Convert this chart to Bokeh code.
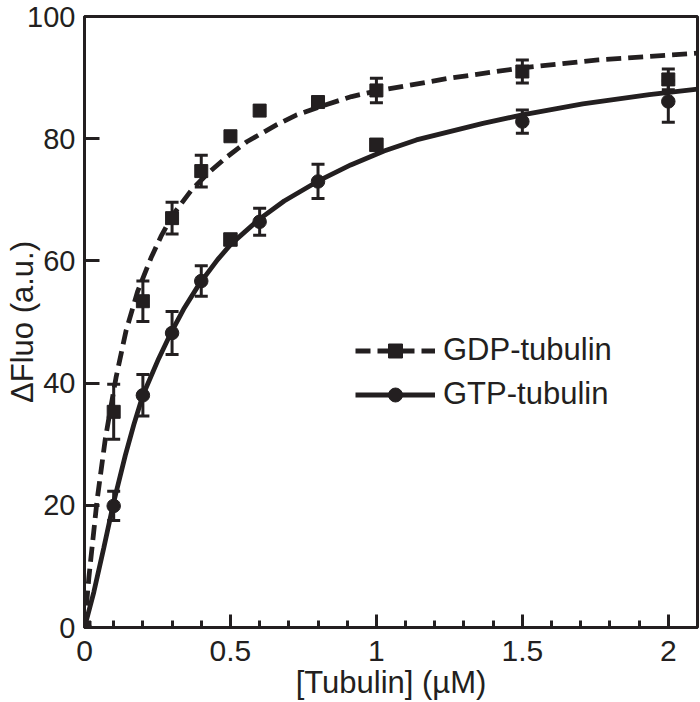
from bokeh.plotting import figure
from bokeh.models import (Range1d, FixedTicker, CustomJSTickFormatter, ColumnDataSource,
                          Whisker, TeeHead, Legend, LegendItem)
from bokeh.embed import file_html
from bokeh.resources import INLINE

INK = "#231f20"
FONT = "Liberation Sans"

# ---- data ----
conc = [0, 0.1, 0.2, 0.3, 0.4, 0.5, 0.6, 0.8, 1.0, 1.5, 2.0]
gdp_mean = [0, 35.3, 53.4, 67.0, 74.7, 80.4, 84.6, 86.0, 87.9, 91.0, 89.7]
gdp_err = [0, 4.5, 3.3, 2.6, 2.6, 0, 0, 0, 2.0, 1.9, 1.7]
gtp_mean = [0, 19.9, 38.0, 48.2, 56.7, 63.5, 66.4, 73.0, 79.0, 82.8, 86.1]
gtp_err = [0, 2.4, 3.4, 3.5, 2.5, 0, 2.2, 2.8, 0, 1.9, 3.4]
gtp_marker = ["circle", "circle", "circle", "circle", "circle", "square",
              "circle", "circle", "square", "circle", "circle"]

# fitted curves
gdp_fit_x = [0, 0.015, 0.043, 0.072, 0.108, 0.142, 0.182, 0.228, 0.262, 0.302, 0.365,
             0.422, 0.482, 0.556, 0.659, 0.727, 0.83, 0.915, 1.0, 1.25, 1.5, 1.76, 2.1]
gdp_fit_y = [0, 8.2, 20.8, 31.1, 40.9, 48.5, 55.0, 60.5, 64.0, 67.5, 71.5,
             74.3, 76.8, 79.5, 82.3, 83.9, 85.6, 86.9, 87.8, 89.9, 91.6, 92.9, 94.0]
gtp_fit_x = [0, 0.032, 0.066, 0.1, 0.14, 0.169, 0.2, 0.254, 0.296, 0.342, 0.393, 0.456,
             0.501, 0.598, 0.684, 0.798, 0.912, 1.026, 1.137, 1.365, 1.5, 1.707, 1.935, 2.1]
gtp_fit_y = [0, 5.8, 13.0, 20.5, 28.2, 33.2, 38.0, 44.0, 48.2, 52.3, 56.2, 60.2,
             62.7, 66.8, 69.8, 73.0, 75.7, 78.0, 79.8, 82.5, 83.9, 85.7, 87.2, 88.1]

x_ticks = [0, 0.5, 1, 1.5, 2]
x_tick_labels = ["0", "0.5", "1", "1.5", "2"]
x_minor_ticks = [0.1, 0.2, 0.3, 0.4, 0.6, 0.7, 0.8, 0.9, 1.1, 1.2, 1.3, 1.4,
                 1.6, 1.7, 1.8, 1.9]
y_ticks = [0, 20, 40, 60, 80, 100]

x_label = "[Tubulin] (\u00b5M)"
y_label = "\u0394Fluo (a.u.)"
series_names = ["GDP-tubulin", "GTP-tubulin"]

# ---- figure ----
p = figure(width=700, height=702, frame_width=613, frame_height=611,
           output_backend="svg", toolbar_location=None,
           x_range=Range1d(0, 2.1), y_range=Range1d(0, 100),
           min_border_left=84, min_border_right=3, min_border_top=16, min_border_bottom=75)
p.background_fill_color = "white"
p.border_fill_color = "white"
p.grid.visible = False
p.outline_line_color = INK
p.outline_line_width = 3

xa = p.xaxis[0]
xa.ticker = FixedTicker(ticks=x_ticks, minor_ticks=x_minor_ticks)
xa.formatter = CustomJSTickFormatter(args=dict(t=x_ticks, l=x_tick_labels), code="""
    for (let i = 0; i < t.length; i++) { if (Math.abs(t[i] - tick) < 1e-9) return l[i]; }
    return String(tick);
""")
xa.major_tick_in = 13
xa.major_tick_out = 0
xa.minor_tick_in = 7
xa.minor_tick_out = 0
xa.major_label_standoff = 13
xa.axis_label = x_label
xa.axis_label_standoff = 1
xa.major_label_text_font_size = "30px"

ya = p.yaxis[0]
ya.ticker = FixedTicker(ticks=y_ticks, minor_ticks=[])
ya.major_tick_in = 15
ya.major_tick_out = 0
ya.minor_tick_in = 0
ya.minor_tick_out = 0
ya.major_label_standoff = 9
ya.axis_label = y_label
ya.axis_label_standoff = -16
ya.major_label_text_font_size = "29px"

for ax in (xa, ya):
    ax.axis_line_color = INK
    ax.axis_line_width = 3
    ax.major_tick_line_color = INK
    ax.major_tick_line_width = 3
    ax.minor_tick_line_color = INK
    ax.minor_tick_line_width = 3
    ax.major_label_text_font = FONT
    ax.major_label_text_color = INK
    ax.axis_label_text_font = FONT
    ax.axis_label_text_font_size = "31px"
    ax.axis_label_text_font_style = "normal"
    ax.axis_label_text_color = INK

# ---- error bars ----
def err_source(xs, ms, es):
    bx, lo, hi = [], [], []
    for x, m, e in zip(xs, ms, es):
        if e > 0:
            bx.append(x); lo.append(m - e); hi.append(m + e)
    return ColumnDataSource(dict(x=bx, lower=lo, upper=hi))

for ms, es in ((gtp_mean, gtp_err), (gdp_mean, gdp_err)):
    w = Whisker(source=err_source(conc, ms, es), base="x", lower="lower", upper="upper",
                dimension="height", line_color=INK, line_width=3,
                upper_head=TeeHead(size=13, line_color=INK, line_width=3),
                lower_head=TeeHead(size=13, line_color=INK, line_width=3))
    p.add_layout(w)

# ---- fitted curves ----
gtp_line = p.line(gtp_fit_x, gtp_fit_y, line_color=INK, line_width=4.8)
gdp_line = p.line(gdp_fit_x, gdp_fit_y, line_color=INK, line_width=4.8, line_dash="15 7")

# ---- points ----
gtp_src = ColumnDataSource(dict(x=conc, y=gtp_mean, m=gtp_marker))
gtp_pts = p.scatter("x", "y", source=gtp_src, marker="m", size=13.5,
                    fill_color=INK, line_color=INK)
gdp_src = ColumnDataSource(dict(x=conc, y=gdp_mean))
gdp_pts = p.scatter("x", "y", source=gdp_src, marker="square", size=13,
                    fill_color=INK, line_color=INK)

# ---- legend ----
legend = Legend(items=[
    LegendItem(label=series_names[0], renderers=[gdp_line, gdp_pts], index=0),
    LegendItem(label=series_names[1], renderers=[gtp_line, gtp_pts], index=0),
], location=(271, 215))
legend.glyph_width = 80
legend.glyph_height = 35
legend.label_height = 35
legend.spacing = 8
legend.padding = 0
legend.margin = 0
legend.label_standoff = 8
legend.border_line_alpha = 0
legend.background_fill_alpha = 0
legend.label_text_font = FONT
legend.label_text_font_size = "31px"
legend.label_text_color = INK
p.add_layout(legend)

open("out.html", "w").write(file_html(p, INLINE))
